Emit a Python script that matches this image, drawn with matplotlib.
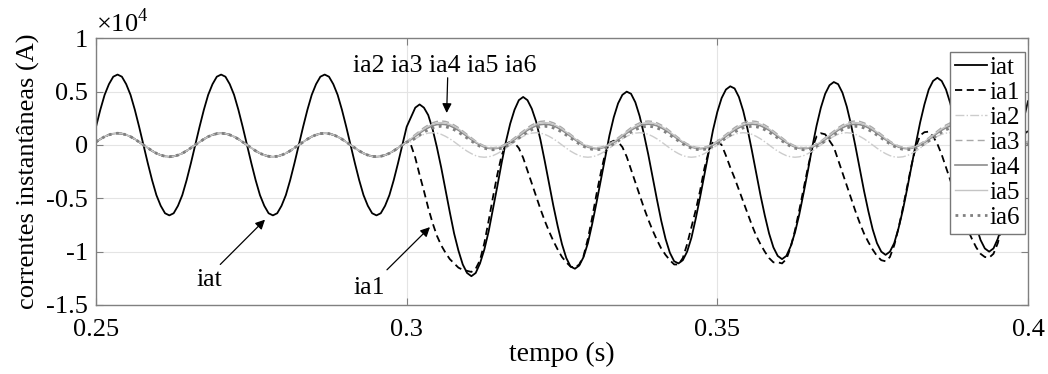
import numpy as np
import matplotlib
matplotlib.use('Agg')
from matplotlib import pyplot as plt
from matplotlib.ticker import FuncFormatter

plt.rcParams['font.family'] = ['Liberation Serif', 'DejaVu Serif']
plt.rcParams['mathtext.fontset'] = 'custom'
plt.rcParams['mathtext.rm'] = 'Liberation Serif'
plt.rcParams['axes.unicode_minus'] = False

# samples every 1/1440 s (24 per 60 Hz cycle) from 0.25 s to 0.40 s, fault at 0.30 s
fs = 1440
t = 0.25 + np.arange(217) / fs

# currents, in units of 1e4 A
iat = [0.17, 0.33, 0.47, 0.57, 0.64, 0.66, 0.64, 0.57, 0.47, 0.33, 0.17, 0.0, -0.17, -0.33, -0.47, -0.57, -0.64, -0.66, -0.64, -0.57, -0.47, -0.33, -0.17, 0.0,
       0.17, 0.33, 0.47, 0.57, 0.64, 0.66, 0.64, 0.57, 0.47, 0.33, 0.17, 0.0, -0.17, -0.33, -0.47, -0.57, -0.64, -0.66, -0.64, -0.57, -0.47, -0.33, -0.17, 0.0,
       0.17, 0.33, 0.47, 0.57, 0.64, 0.66, 0.64, 0.57, 0.47, 0.33, 0.17, 0.0, -0.17, -0.33, -0.47, -0.57, -0.64, -0.66, -0.64, -0.57, -0.47, -0.33, -0.17, 0.0,
       0.17,
       0.26, 0.35, 0.38, 0.35, 0.28, 0.15, -0.02, -0.21, -0.42, -0.63, -0.83, -0.99, -1.12, -1.20, -1.23, -1.20, -1.11, -0.98, -0.81, -0.60, -0.39, -0.17, 0.03, 0.20,
       0.33, 0.42, 0.45, 0.42, 0.34, 0.22, 0.05, -0.15, -0.36, -0.57, -0.76, -0.93, -1.06, -1.14, -1.16, -1.13, -1.05, -0.92, -0.74, -0.54, -0.33, -0.12, 0.09, 0.26,
       0.39, 0.47, 0.50, 0.48, 0.40, 0.27, 0.10, -0.09, -0.30, -0.51, -0.71, -0.88, -1.01, -1.09, -1.11, -1.08, -1.00, -0.87, -0.69, -0.49, -0.28, -0.07, 0.14, 0.31,
       0.44, 0.52, 0.55, 0.53, 0.45, 0.32, 0.15, -0.05, -0.26, -0.47, -0.66, -0.83, -0.96, -1.04, -1.07, -1.04, -0.95, -0.82, -0.65, -0.45, -0.24, -0.02, 0.18, 0.35,
       0.48, 0.56, 0.59, 0.57, 0.49, 0.36, 0.19, -0.01, -0.22, -0.43, -0.62, -0.79, -0.92, -1.00, -1.03, -1.00, -0.92, -0.78, -0.61, -0.41, -0.20, 0.01, 0.21, 0.38,
       0.52, 0.60, 0.63, 0.60, 0.52, 0.39, 0.22, 0.03, -0.18, -0.40, -0.59, -0.76, -0.89, -0.97, -1.00, -0.97, -0.88, -0.75, -0.58, -0.38, -0.17, 0.04, 0.24, 0.41]

# all feeders carry the same current before the fault
ia_pre = [0.028, 0.055, 0.078, 0.095, 0.106, 0.110, 0.106, 0.095, 0.078, 0.055, 0.028, 0.0, -0.028, -0.055, -0.078, -0.095, -0.106, -0.110, -0.106, -0.095, -0.078, -0.055, -0.028, 0.0,
          0.028, 0.055, 0.078, 0.095, 0.106, 0.110, 0.106, 0.095, 0.078, 0.055, 0.028, 0.0, -0.028, -0.055, -0.078, -0.095, -0.106, -0.110, -0.106, -0.095, -0.078, -0.055, -0.028, 0.0,
          0.028, 0.055, 0.078, 0.095, 0.106, 0.110, 0.106, 0.095, 0.078, 0.055, 0.028, 0.0, -0.028, -0.055, -0.078, -0.095, -0.106, -0.110, -0.106, -0.095, -0.078, -0.055, -0.028, 0.0,
          0.028]

ia1_post = [0.0, -0.12, -0.28, -0.43, -0.59, -0.73, -0.85, -0.94, -1.01, -1.07, -1.11, -1.15, -1.17, -1.18, -1.19, -1.16, -1.08, -0.92, -0.71, -0.49, -0.28, -0.10, 0.01, 0.03,
            0.02, -0.03, -0.12, -0.24, -0.36, -0.48, -0.60, -0.71, -0.81, -0.90, -0.98, -1.05, -1.10, -1.14, -1.15, -1.12, -1.04, -0.88, -0.68, -0.46, -0.26, -0.08, 0.02, 0.04,
            0.03, -0.02, -0.11, -0.23, -0.35, -0.47, -0.59, -0.70, -0.80, -0.89, -0.97, -1.03, -1.08, -1.12, -1.12, -1.06, -0.93, -0.77, -0.61, -0.43, -0.22, -0.06, 0.03, 0.04,
            0.0, -0.10, -0.21, -0.31, -0.42, -0.53, -0.64, -0.75, -0.85, -0.93, -1.00, -1.06, -1.10, -1.10, -1.11, -1.07, -0.96, -0.80, -0.61, -0.41, -0.21, -0.03, 0.08, 0.11,
            0.10, 0.04, -0.02, -0.14, -0.26, -0.38, -0.50, -0.62, -0.73, -0.83, -0.91, -0.98, -1.04, -1.08, -1.09, -1.05, -0.94, -0.78, -0.59, -0.39, -0.19, -0.02, 0.09, 0.12,
            0.125, 0.08, 0.01, -0.09, -0.21, -0.33, -0.45, -0.57, -0.68, -0.79, -0.88, -0.96, -1.02, -1.05, -1.056, -1.02, -0.92, -0.76, -0.57, -0.37, -0.17, 0.0, 0.10, 0.13]

ia2_post = [0.030, 0.058, 0.081, 0.100, 0.111, 0.115, 0.111, 0.100, 0.081, 0.058, 0.030, 0.0, -0.030, -0.058, -0.081, -0.100, -0.111, -0.115, -0.111, -0.100, -0.081, -0.058, -0.030, 0.0,
            0.030, 0.058, 0.081, 0.100, 0.111, 0.115, 0.111, 0.100, 0.081, 0.058, 0.030, 0.0, -0.030, -0.058, -0.081, -0.100, -0.111, -0.115, -0.111, -0.100, -0.081, -0.058, -0.030, 0.0,
            0.030, 0.058, 0.081, 0.100, 0.111, 0.115, 0.111, 0.100, 0.081, 0.058, 0.030, 0.0, -0.030, -0.058, -0.081, -0.100, -0.111, -0.115, -0.111, -0.100, -0.081, -0.058, -0.030, 0.0,
            0.030, 0.058, 0.081, 0.100, 0.111, 0.115, 0.111, 0.100, 0.081, 0.058, 0.030, 0.0, -0.030, -0.058, -0.081, -0.100, -0.111, -0.115, -0.111, -0.100, -0.081, -0.058, -0.030, 0.0,
            0.030, 0.058, 0.081, 0.100, 0.111, 0.115, 0.111, 0.100, 0.081, 0.058, 0.030, 0.0, -0.030, -0.058, -0.081, -0.100, -0.111, -0.115, -0.111, -0.100, -0.081, -0.058, -0.030, 0.0,
            0.030, 0.058, 0.081, 0.100, 0.111, 0.115, 0.111, 0.100, 0.081, 0.058, 0.030, 0.0, -0.030, -0.058, -0.081, -0.100, -0.111, -0.115, -0.111, -0.100, -0.081, -0.058, -0.030, 0.0]

ia3_post = [0.068, 0.100, 0.132, 0.163, 0.188, 0.208, 0.221, 0.225, 0.221, 0.208, 0.188, 0.163, 0.132, 0.100, 0.068, 0.037, 0.012, -0.008, -0.021, -0.025, -0.021, -0.008, 0.012, 0.037,
            0.068, 0.100, 0.132, 0.163, 0.188, 0.208, 0.221, 0.225, 0.221, 0.208, 0.188, 0.163, 0.132, 0.100, 0.068, 0.037, 0.012, -0.008, -0.021, -0.025, -0.021, -0.008, 0.012, 0.037,
            0.068, 0.100, 0.132, 0.163, 0.188, 0.208, 0.221, 0.225, 0.221, 0.208, 0.188, 0.163, 0.132, 0.100, 0.068, 0.037, 0.012, -0.008, -0.021, -0.025, -0.021, -0.008, 0.012, 0.037,
            0.068, 0.100, 0.132, 0.163, 0.188, 0.208, 0.221, 0.225, 0.221, 0.208, 0.188, 0.163, 0.132, 0.100, 0.068, 0.037, 0.012, -0.008, -0.021, -0.025, -0.021, -0.008, 0.012, 0.037,
            0.068, 0.100, 0.132, 0.163, 0.188, 0.208, 0.221, 0.225, 0.221, 0.208, 0.188, 0.163, 0.132, 0.100, 0.068, 0.037, 0.012, -0.008, -0.021, -0.025, -0.021, -0.008, 0.012, 0.037,
            0.068, 0.100, 0.132, 0.163, 0.188, 0.208, 0.221, 0.225, 0.221, 0.208, 0.188, 0.163, 0.132, 0.100, 0.068, 0.037, 0.012, -0.008, -0.021, -0.025, -0.021, -0.008, 0.012, 0.037]

ia4_post = [0.050, 0.080, 0.110, 0.138, 0.161, 0.180, 0.191, 0.195, 0.191, 0.180, 0.161, 0.138, 0.110, 0.080, 0.050, 0.022, -0.001, -0.020, -0.031, -0.035, -0.031, -0.020, -0.001, 0.022,
            0.050, 0.080, 0.110, 0.138, 0.161, 0.180, 0.191, 0.195, 0.191, 0.180, 0.161, 0.138, 0.110, 0.080, 0.050, 0.022, -0.001, -0.020, -0.031, -0.035, -0.031, -0.020, -0.001, 0.022,
            0.050, 0.080, 0.110, 0.138, 0.161, 0.180, 0.191, 0.195, 0.191, 0.180, 0.161, 0.138, 0.110, 0.080, 0.050, 0.022, -0.001, -0.020, -0.031, -0.035, -0.031, -0.020, -0.001, 0.022,
            0.050, 0.080, 0.110, 0.138, 0.161, 0.180, 0.191, 0.195, 0.191, 0.180, 0.161, 0.138, 0.110, 0.080, 0.050, 0.022, -0.001, -0.020, -0.031, -0.035, -0.031, -0.020, -0.001, 0.022,
            0.050, 0.080, 0.110, 0.138, 0.161, 0.180, 0.191, 0.195, 0.191, 0.180, 0.161, 0.138, 0.110, 0.080, 0.050, 0.022, -0.001, -0.020, -0.031, -0.035, -0.031, -0.020, -0.001, 0.022,
            0.050, 0.080, 0.110, 0.138, 0.161, 0.180, 0.191, 0.195, 0.191, 0.180, 0.161, 0.138, 0.110, 0.080, 0.050, 0.022, -0.001, -0.020, -0.031, -0.035, -0.031, -0.020, -0.001, 0.022]

ia5_post = [0.059, 0.090, 0.121, 0.150, 0.175, 0.194, 0.206, 0.210, 0.206, 0.194, 0.175, 0.150, 0.121, 0.090, 0.059, 0.030, 0.005, -0.014, -0.026, -0.030, -0.026, -0.014, 0.005, 0.030,
            0.059, 0.090, 0.121, 0.150, 0.175, 0.194, 0.206, 0.210, 0.206, 0.194, 0.175, 0.150, 0.121, 0.090, 0.059, 0.030, 0.005, -0.014, -0.026, -0.030, -0.026, -0.014, 0.005, 0.030,
            0.059, 0.090, 0.121, 0.150, 0.175, 0.194, 0.206, 0.210, 0.206, 0.194, 0.175, 0.150, 0.121, 0.090, 0.059, 0.030, 0.005, -0.014, -0.026, -0.030, -0.026, -0.014, 0.005, 0.030,
            0.059, 0.090, 0.121, 0.150, 0.175, 0.194, 0.206, 0.210, 0.206, 0.194, 0.175, 0.150, 0.121, 0.090, 0.059, 0.030, 0.005, -0.014, -0.026, -0.030, -0.026, -0.014, 0.005, 0.030,
            0.059, 0.090, 0.121, 0.150, 0.175, 0.194, 0.206, 0.210, 0.206, 0.194, 0.175, 0.150, 0.121, 0.090, 0.059, 0.030, 0.005, -0.014, -0.026, -0.030, -0.026, -0.014, 0.005, 0.030,
            0.059, 0.090, 0.121, 0.150, 0.175, 0.194, 0.206, 0.210, 0.206, 0.194, 0.175, 0.150, 0.121, 0.090, 0.059, 0.030, 0.005, -0.014, -0.026, -0.030, -0.026, -0.014, 0.005, 0.030]

ia6_post = [0.037, 0.065, 0.093, 0.120, 0.143, 0.160, 0.171, 0.175, 0.171, 0.160, 0.143, 0.120, 0.093, 0.065, 0.037, 0.010, -0.013, -0.030, -0.041, -0.045, -0.041, -0.030, -0.013, 0.010,
            0.037, 0.065, 0.093, 0.120, 0.143, 0.160, 0.171, 0.175, 0.171, 0.160, 0.143, 0.120, 0.093, 0.065, 0.037, 0.010, -0.013, -0.030, -0.041, -0.045, -0.041, -0.030, -0.013, 0.010,
            0.037, 0.065, 0.093, 0.120, 0.143, 0.160, 0.171, 0.175, 0.171, 0.160, 0.143, 0.120, 0.093, 0.065, 0.037, 0.010, -0.013, -0.030, -0.041, -0.045, -0.041, -0.030, -0.013, 0.010,
            0.037, 0.065, 0.093, 0.120, 0.143, 0.160, 0.171, 0.175, 0.171, 0.160, 0.143, 0.120, 0.093, 0.065, 0.037, 0.010, -0.013, -0.030, -0.041, -0.045, -0.041, -0.030, -0.013, 0.010,
            0.037, 0.065, 0.093, 0.120, 0.143, 0.160, 0.171, 0.175, 0.171, 0.160, 0.143, 0.120, 0.093, 0.065, 0.037, 0.010, -0.013, -0.030, -0.041, -0.045, -0.041, -0.030, -0.013, 0.010,
            0.037, 0.065, 0.093, 0.120, 0.143, 0.160, 0.171, 0.175, 0.171, 0.160, 0.143, 0.120, 0.093, 0.065, 0.037, 0.010, -0.013, -0.030, -0.041, -0.045, -0.041, -0.030, -0.013, 0.010]

ia1 = ia_pre + ia1_post
ia2 = ia_pre + ia2_post
ia3 = ia_pre + ia3_post
ia4 = ia_pre + ia4_post
ia5 = ia_pre + ia5_post
ia6 = ia_pre + ia6_post

xticks = [0.25, 0.3, 0.35, 0.4]
yticks = [-1.5, -1, -0.5, 0, 0.5, 1]

fig = plt.figure(figsize=(10.48, 3.74), dpi=100)
ax = fig.add_axes([0.0916, 0.1845, 0.8893, 0.7131])

ax.plot(t, iat, '-', color='k', lw=1.3, label='iat')
ax.plot(t, ia1, '--', color='k', lw=1.3, dashes=(4, 2.5), label='ia1')
ax.plot(t, ia2, '-.', color='#cccccc', lw=1.0, label='ia2')
ax.plot(t, ia3, '--', color='#a8a8a8', lw=1.0, dashes=(5, 3), label='ia3')
ax.plot(t, ia4, '-', color='#8c8c8c', lw=1.2, label='ia4')
ax.plot(t, ia5, '-', color='#c4c4c4', lw=1.0, label='ia5')
ax.plot(t, ia6, ':', color='#808080', lw=2.0, label='ia6')

ax.set_xlim(0.25, 0.4)
ax.set_ylim(-1.5, 1)
ax.set_xticks(xticks)
ax.set_yticks(yticks)
fmt = FuncFormatter(lambda v, p: '%g' % v)
ax.xaxis.set_major_formatter(fmt)
ax.yaxis.set_major_formatter(fmt)
ax.grid(True, color='#e4e4e4', lw=0.8)
ax.set_axisbelow(True)
for s in ax.spines.values():
    s.set_color('#808080')
    s.set_linewidth(1.0)
ax.tick_params(direction='in', top=True, right=True, length=5, color='#808080',
               labelsize=19, labelcolor='k')
ax.tick_params(axis='x', pad=10)
ax.tick_params(axis='y', pad=6)

ax.set_xlabel('tempo (s)', fontsize=20, labelpad=1)
ax.set_ylabel('correntes instantâneas (A)', fontsize=19, labelpad=4)
ax.text(0.0, 1.005, r'$\times10^{4}$', transform=ax.transAxes, fontsize=19,
        ha='left', va='bottom')

arrow = dict(arrowstyle='-|>', color='k', lw=0.9, mutation_scale=14, shrinkA=0, shrinkB=0)
ax.annotate('', xy=(0.30644, 0.30), xytext=(0.3066, 0.63), arrowprops=arrow)
ax.text(0.3062, 0.74, 'ia2 ia3 ia4 ia5 ia6', fontsize=18.5, ha='center', va='center')
ax.annotate('', xy=(0.2772, -0.70), xytext=(0.2700, -1.12), arrowprops=arrow)
ax.text(0.2683, -1.27, 'iat', fontsize=18.5, ha='center', va='center')
ax.annotate('', xy=(0.30375, -0.77), xytext=(0.29683, -1.17), arrowprops=arrow)
ax.text(0.2939, -1.34, 'ia1', fontsize=18.5, ha='center', va='center')

leg = ax.legend(loc='upper right', bbox_to_anchor=(0.997, 0.95), borderaxespad=0,
                fontsize=18, fancybox=False, framealpha=1, edgecolor='#777777',
                handlelength=1.3, handletextpad=0.1, borderpad=0.2, labelspacing=0.1)
leg.get_frame().set_linewidth(1.0)

fig.savefig('out.png', dpi=100)
